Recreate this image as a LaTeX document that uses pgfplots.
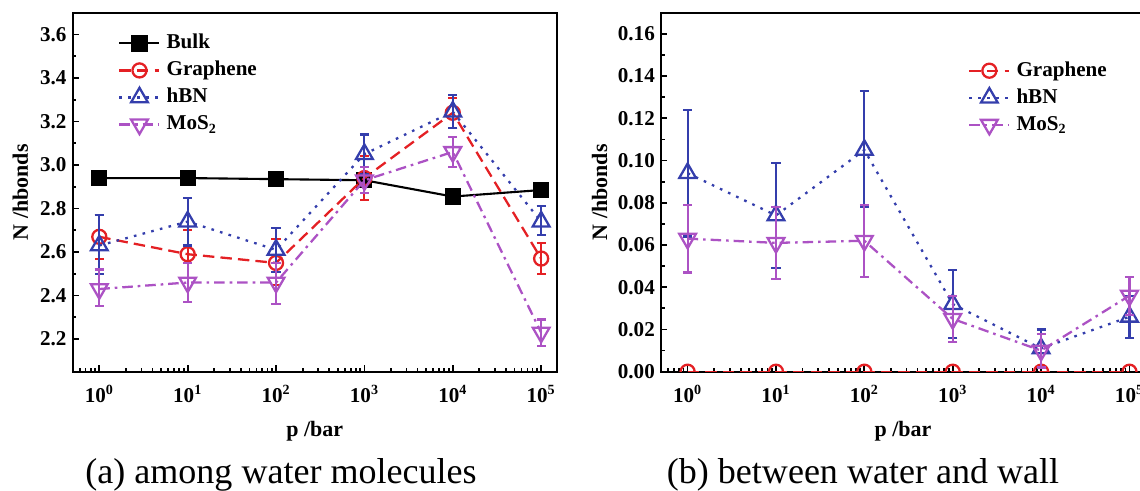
\documentclass[border=0pt]{standalone}
\usepackage{pgfplots}
\pgfplotsset{compat=1.18}
\usepackage{fontspec}
\setmainfont{Liberation Serif}
\definecolor{cred}{RGB}{228,32,36}
\definecolor{cblue}{RGB}{52,62,172}
\definecolor{cpurp}{RGB}{172,82,196}

\pgfplotstableread{
x y ep em
1 2.940 0.01 0.01
10 2.940 0.01 0.01
100 2.935 0.01 0.01
1000 2.930 0.01 0.01
10000 2.855 0.01 0.01
100000 2.885 0.01 0.01
}\bulkA
\pgfplotstableread{
x y ep em
1 2.67 0.10 0.10
10 2.59 0.11 0.11
100 2.55 0.11 0.10
1000 2.94 0.10 0.10
10000 3.24 0.07 0.07
100000 2.57 0.07 0.07
}\graA
\pgfplotstableread{
x y ep em
1 2.63 0.14 0.13
10 2.74 0.11 0.11
100 2.61 0.10 0.10
1000 3.05 0.09 0.09
10000 3.245 0.075 0.075
100000 2.74 0.07 0.06
}\hbnA
\pgfplotstableread{
x y ep em
1 2.43 0.09 0.08
10 2.46 0.09 0.09
100 2.46 0.09 0.10
1000 2.93 0.06 0.06
10000 3.06 0.07 0.07
100000 2.23 0.06 0.06
}\mosA
\pgfplotstableread{
x y
1 0
10 0
100 0
1000 0
10000 0
100000 0
}\graB
\pgfplotstableread{
x y ep em
1 0.094 0.030 0.030
10 0.074 0.025 0.025
100 0.105 0.028 0.027
1000 0.032 0.016 0.016
10000 0.011 0.009 0.009
100000 0.026 0.010 0.010
}\hbnB
\pgfplotstableread{
x y ep em
1 0.063 0.016 0.016
10 0.061 0.017 0.017
100 0.062 0.017 0.017
1000 0.025 0.011 0.011
10000 0.010 0.008 0.008
100000 0.036 0.009 0.009
}\mosB

\pgfplotsset{
  bulkst/.style={black, line width=1.2pt, solid, mark=square*, mark size=4pt, mark options={solid}},
  grast/.style={cred, line width=1.3pt, dash pattern=on 6.5pt off 3.5pt, mark=o, mark size=4pt, mark options={solid, line width=1.3pt}},
  hbnst/.style={cblue, line width=1.3pt, dash pattern=on 1.5pt off 3.6pt, mark=triangle, mark size=5.5pt, mark options={solid, line width=1.3pt}},
  mosst/.style={cpurp, line width=1.3pt, dash pattern=on 6pt off 2.8pt on 1.5pt off 2.8pt, mark=triangle, mark size=5.5pt, mark options={solid, line width=1.3pt, rotate=180}},
}

\begin{document}
\begin{tikzpicture}
\begin{semilogxaxis}[at={(1.454cm,2.366cm)}, anchor=south west,
    set layers,
    xmin=0.5, xmax=1.5e5,
    scale only axis, width=9.68cm, height=7.18cm,
    clip marker paths=true,
    axis line style={line width=1.3pt},
    tick align=inside, xtick pos=bottom, ytick pos=left,
    major tick length=0.13cm, minor tick length=0.07cm,
    every tick/.style={black, line width=1pt},
    xtick={1,10,100,1000,10000,100000},
    minor xtick={0.5,0.6,0.7,0.8,0.9,2,3,4,5,6,7,8,9,20,30,40,50,60,70,80,90,200,300,400,500,600,700,800,900,2000,3000,4000,5000,6000,7000,8000,9000,20000,30000,40000,50000,60000,70000,80000,90000},
    xticklabels={10\textsuperscript{0},10\textsuperscript{1},10\textsuperscript{2},10\textsuperscript{3},10\textsuperscript{4},10\textsuperscript{5}},
    ticklabel style={font=\fontsize{12}{13}\selectfont\bfseries},
    xticklabel style={yshift=-0.15cm},
    minor y tick num=1,
    label style={font=\fontsize{12.5}{14}\selectfont\bfseries},
    xlabel={p /bar}, ylabel={N /hbonds},
    xlabel style={at={(axis description cs:0.5,-0.167)}, anchor=center},
    legend image code/.code={\draw[mark repeat=2,mark phase=2,#1] plot coordinates {(0cm,0cm) (0.4cm,0cm) (0.8cm,0cm)};},
    legend style={draw=none, fill=none, inner xsep=0pt, inner ysep=0pt,
      font=\fontsize{12}{14}\selectfont\bfseries, row sep=0pt, column sep=0.12cm,
      nodes={inner sep=0pt, text height=0.38cm, text depth=0.16cm, anchor=west}},
    legend cell align=left,
  ymin=2.05, ymax=3.7, ytick={2.2,2.4,...,3.6},
  yticklabel style={/pgf/number format/.cd, fixed, fixed zerofill, precision=1, assume math mode=true},
  ylabel style={at={(axis description cs:-0.108,0.5)}, anchor=center, rotate=0},
  legend style={at={(axis description cs:0.0936,0.953)}, anchor=north west}]
\addplot[bulkst] table[x=x,y=y] {\bulkA};
\addlegendentry{Bulk}
\addplot[grast, error bars/.cd, y dir=both, y explicit, error mark=-,
    error bar style={solid, line width=1.2pt, cred},
    error mark options={solid, line width=1.2pt, mark size=2.6pt, rotate=90, cred}] table[x=x,y=y,y error plus=ep,y error minus=em] {\graA};
\addlegendentry{Graphene}
\addplot[hbnst, error bars/.cd, y dir=both, y explicit, error mark=-,
    error bar style={solid, line width=1.2pt, cblue},
    error mark options={solid, line width=1.2pt, mark size=2.6pt, rotate=90, cblue}] table[x=x,y=y,y error plus=ep,y error minus=em] {\hbnA};
\addlegendentry{hBN}
\addplot[mosst, error bars/.cd, y dir=both, y explicit, error mark=-,
    error bar style={solid, line width=1.2pt, cpurp},
    error mark options={solid, line width=1.2pt, mark size=2.6pt, rotate=90, cpurp}] table[x=x,y=y,y error plus=ep,y error minus=em] {\mosA};
\addlegendentry{MoS\textsubscript{2}}
\end{semilogxaxis}

\begin{semilogxaxis}[at={(13.22cm,2.366cm)}, anchor=south west,
    set layers,
    xmin=0.5, xmax=1.5e5,
    scale only axis, width=9.68cm, height=7.18cm,
    clip marker paths=true,
    axis line style={line width=1.3pt},
    tick align=inside, xtick pos=bottom, ytick pos=left,
    major tick length=0.13cm, minor tick length=0.07cm,
    every tick/.style={black, line width=1pt},
    xtick={1,10,100,1000,10000,100000},
    minor xtick={0.5,0.6,0.7,0.8,0.9,2,3,4,5,6,7,8,9,20,30,40,50,60,70,80,90,200,300,400,500,600,700,800,900,2000,3000,4000,5000,6000,7000,8000,9000,20000,30000,40000,50000,60000,70000,80000,90000},
    xticklabels={10\textsuperscript{0},10\textsuperscript{1},10\textsuperscript{2},10\textsuperscript{3},10\textsuperscript{4},10\textsuperscript{5}},
    ticklabel style={font=\fontsize{12}{13}\selectfont\bfseries},
    xticklabel style={yshift=-0.15cm},
    minor y tick num=1,
    label style={font=\fontsize{12.5}{14}\selectfont\bfseries},
    xlabel={p /bar}, ylabel={N /hbonds},
    xlabel style={at={(axis description cs:0.5,-0.167)}, anchor=center},
    legend image code/.code={\draw[mark repeat=2,mark phase=2,#1] plot coordinates {(0cm,0cm) (0.4cm,0cm) (0.8cm,0cm)};},
    legend style={draw=none, fill=none, inner xsep=0pt, inner ysep=0pt,
      font=\fontsize{12}{14}\selectfont\bfseries, row sep=0pt, column sep=0.12cm,
      nodes={inner sep=0pt, text height=0.38cm, text depth=0.16cm, anchor=west}},
    legend cell align=left,
  ymin=0, ymax=0.17, ytick={0,0.02,...,0.161},
  yticklabel style={/pgf/number format/.cd, fixed, fixed zerofill, precision=2, assume math mode=true},
  ylabel style={at={(axis description cs:-0.127,0.5)}, anchor=center, rotate=0},
  legend style={at={(axis description cs:0.634,0.877)}, anchor=north west}]
\addplot[grast] table[x=x,y=y] {\graB};
\addlegendentry{Graphene}
\addplot[hbnst, error bars/.cd, y dir=both, y explicit, error mark=-,
    error bar style={solid, line width=1.2pt, cblue},
    error mark options={solid, line width=1.2pt, mark size=2.6pt, rotate=90, cblue}] table[x=x,y=y,y error plus=ep,y error minus=em] {\hbnB};
\addlegendentry{hBN}
\addplot[mosst, error bars/.cd, y dir=both, y explicit, error mark=-,
    error bar style={solid, line width=1.2pt, cpurp},
    error mark options={solid, line width=1.2pt, mark size=2.6pt, rotate=90, cpurp}] table[x=x,y=y,y error plus=ep,y error minus=em] {\mosB};
\addlegendentry{MoS\textsubscript{2}}
\end{semilogxaxis}

\node[anchor=base, font=\fontsize{20.5}{23}\selectfont] at (5.62cm,0.14cm) {(a) among water molecules};
\node[anchor=base, font=\fontsize{20.5}{23}\selectfont] at (17.26cm,0.14cm) {(b) between water and wall};

\pgfresetboundingbox
\path[use as bounding box] (0,0) rectangle (22.8cm,9.8cm);
\end{tikzpicture}
\end{document}
